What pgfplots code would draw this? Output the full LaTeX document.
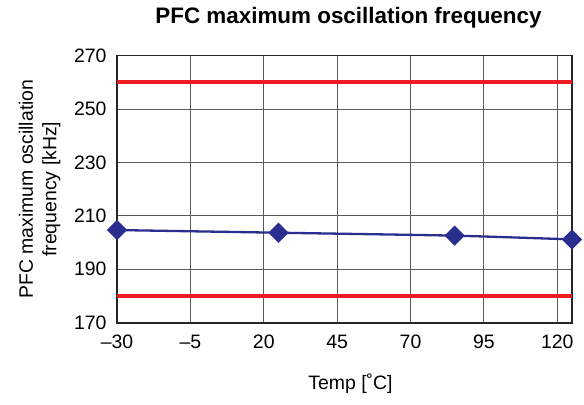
\documentclass[border=0pt]{standalone}
\usepackage{pgfplots}
\pgfplotsset{compat=1.18}
\usepackage{fontspec}
\setmainfont{Liberation Sans}
\definecolor{myblue}{RGB}{42,46,142}
\definecolor{myred}{RGB}{237,28,36}
\begin{document}
\begin{tikzpicture}
\begin{axis}[
  scale only axis,
  width=455bp, height=267bp,
  xmin=-30, xmax=125, ymin=170, ymax=270,
  xtick={-30,-5,20,45,70,95,120},
  xticklabels={–30,–5,20,45,70,95,120},
  ytick={170,190,210,230,250,270},
  /pgf/number format/assume math mode=true,
  major tick length=0pt,
  grid=major,
  major grid style={black!65, line width=0.9bp},
  axis line style={black!85, line width=1.6bp},
  tick label style={font=\fontsize{19.5}{22}\selectfont},
  xticklabel style={yshift=-9bp},
  yticklabel style={xshift=-7bp},
  title={\textbf{PFC maximum oscillation frequency}},
  title style={font=\fontsize{22.5}{26}\selectfont, at={(axis description cs:0.5,1)}, anchor=center, yshift=32bp, xshift=4bp},
  xlabel={Temp [˚C]},
  xlabel style={font=\fontsize{19.5}{22}\selectfont, at={(axis description cs:0.5,0)}, anchor=center, yshift=-61bp, xshift=6bp},
  ylabel={PFC maximum oscillation\\frequency [kHz]},
  ylabel style={font=\fontsize{19.5}{23.5}\selectfont, align=center, at={(axis description cs:-0.170,0.5)}, anchor=center, rotate=0},
  clip=false,
]
\addplot[myred, line width=4bp, forget plot] coordinates {(-30,260) (125,260)};
\addplot[myred, line width=4bp, forget plot] coordinates {(-30,180) (125,180)};
\addplot[myblue, line width=2.3bp, smooth, tension=0.3, mark=square*, mark size=6bp,
  mark options={rotate=45, solid, fill=myblue, draw=myblue}]
  coordinates {(-30,204.7) (25,203.7) (85,202.6) (125,201.2)};
\end{axis}
\pgfresetboundingbox
\path (current axis.south west) ++(-117bp,-82.3bp) rectangle ++(584bp,405bp);
\end{tikzpicture}
\end{document}
